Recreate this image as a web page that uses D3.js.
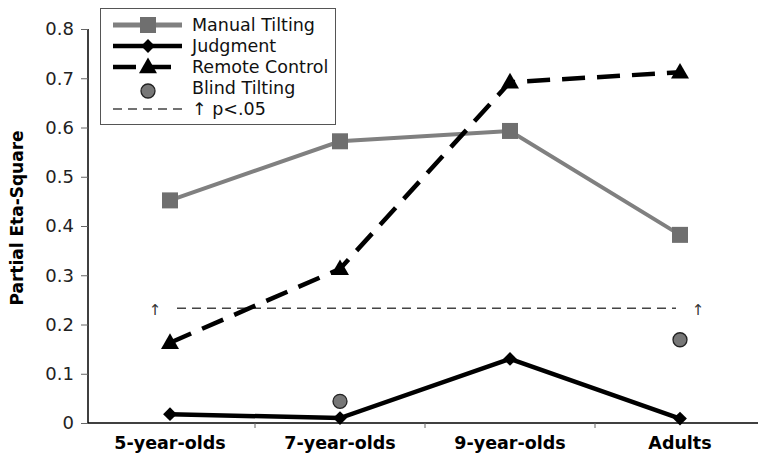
<!DOCTYPE html>
<html>
<head>
<meta charset="utf-8">
<script src="https://cdn.jsdelivr.net/npm/d3@7"></script>
<style>
  body { margin: 0; background: #fff; }
  text { font-family: "DejaVu Sans", Verdana, sans-serif; }
</style>
</head>
<body>
<script>
var w = 758;
var h = 458;

var groups = ["5-year-olds", "7-year-olds", "9-year-olds", "Adults"];
var manual = [0.452, 0.572, 0.593, 0.382];
var judgment = [0.018, 0.01, 0.13, 0.009];
var remote = [0.163, 0.313, 0.692, 0.712];
var blindGroups = ["7-year-olds", "Adults"];
var blind = [0.044, 0.169];
var pLevel = 0.233;
var yTicks = [0, 0.1, 0.2, 0.3, 0.4, 0.5, 0.6, 0.7, 0.8];

var plotLeft = 88, plotTop = 29, plotBottom = 423;

var x = d3.scaleBand()
  .domain(groups)
  .range([85, 765]);

var y = d3.scaleLinear()
  .domain([0, 0.8])
  .range([plotBottom, plotTop]);

var cx = (g) => x(g) + x.bandwidth() / 2;

// diamond = square turned 45 degrees
var diamond = d3.symbol().type(d3.symbolSquare).size(95);

var svg = d3.select("body").append("svg")
  .attr("width", w)
  .attr("height", h);

// y axis
var yAxis = svg.append("g")
  .attr("transform", "translate(" + plotLeft + ",0)")
  .call(d3.axisLeft(y).tickValues(yTicks).tickSize(7).tickPadding(7)
    .tickFormat((d) => d === 0 ? "0" : d3.format(".1f")(d)));
yAxis.select(".domain").attr("stroke", "#000").attr("stroke-width", 1.5).attr("d", "M0," + plotBottom + "V" + plotTop);
yAxis.selectAll(".tick line").attr("stroke", "#666");
yAxis.selectAll("text").attr("font-size", 18).attr("fill", "#222").attr("font-family", "DejaVu Sans");

// x axis
var xAxis = svg.append("g")
  .attr("transform", "translate(0," + plotBottom + ")")
  .call(d3.axisBottom(x).tickSize(0).tickPadding(14));
xAxis.select(".domain").attr("stroke", "#000").attr("stroke-width", 1.5).attr("d", "M" + plotLeft + ",0H" + w);
xAxis.selectAll("text").attr("font-size", 17.5).attr("font-weight", "bold").attr("fill", "#000").attr("font-family", "DejaVu Sans");
// tick marks between categories
svg.selectAll(".xsep")
  .data(groups.slice(1))
  .enter()
    .append("line")
    .attr("x1", (d) => x(d))
    .attr("x2", (d) => x(d))
    .attr("y1", plotBottom)
    .attr("y2", plotBottom + 5)
    .attr("stroke", "#666");

// y title
svg.append("text")
  .attr("transform", "translate(23,218) rotate(-90)")
  .attr("text-anchor", "middle")
  .attr("font-size", 17)
  .attr("font-weight", "bold")
  .text("Partial Eta-Square");

// significance line
svg.append("line")
  .attr("x1", 177)
  .attr("x2", 676)
  .attr("y1", y(pLevel))
  .attr("y2", y(pLevel))
  .attr("stroke", "#444")
  .attr("stroke-width", 1.6)
  .attr("stroke-dasharray", "9,6");
svg.selectAll(".parrow")
  .data([155, 698])
  .enter()
    .append("text")
    .attr("x", (d) => d)
    .attr("y", y(pLevel) + 7)
    .attr("text-anchor", "middle")
    .attr("font-size", 15)
    .attr("fill", "#333")
    .text("\u2191");

var line = d3.line()
  .x((d, i) => cx(groups[i]))
  .y((d) => y(d));

// manual tilting
svg.append("path")
  .datum(manual)
  .attr("d", line)
  .attr("fill", "none")
  .attr("stroke", "#808080")
  .attr("stroke-width", 4);
svg.selectAll(".manual")
  .data(manual)
  .enter()
    .append("rect")
    .attr("x", (d, i) => cx(groups[i]) - 8)
    .attr("y", (d) => y(d) - 8)
    .attr("width", 16)
    .attr("height", 16)
    .attr("fill", "#6f6f6f");

// remote control
svg.append("path")
  .datum(remote)
  .attr("d", line)
  .attr("fill", "none")
  .attr("stroke", "#000")
  .attr("stroke-width", 4.5)
  .attr("stroke-dasharray", "23,12");
svg.selectAll(".remote")
  .data(remote)
  .enter()
    .append("path")
    .attr("d", d3.symbol().type(d3.symbolTriangle).size(140))
    .attr("transform", (d, i) => "translate(" + cx(groups[i]) + "," + (y(d) + 1) + ")")
    .attr("fill", "#000");

// judgment
svg.append("path")
  .datum(judgment)
  .attr("d", line)
  .attr("fill", "none")
  .attr("stroke", "#000")
  .attr("stroke-width", 4.5);
svg.selectAll(".judg")
  .data(judgment)
  .enter()
    .append("path")
    .attr("d", diamond)
    .attr("transform", (d, i) => "translate(" + cx(groups[i]) + "," + y(d) + ") rotate(45)")
    .attr("fill", "#000");

// blind tilting
svg.selectAll(".blind")
  .data(blind)
  .enter()
    .append("circle")
    .attr("cx", (d, i) => cx(blindGroups[i]))
    .attr("cy", (d) => y(d))
    .attr("r", 7)
    .attr("fill", "#777")
    .attr("stroke", "#222")
    .attr("stroke-width", 1.3);

// legend
var lg = svg.append("g");
lg.append("rect")
  .attr("x", 100.5)
  .attr("y", 8.5)
  .attr("width", 235)
  .attr("height", 116)
  .attr("fill", "#fff")
  .attr("stroke", "#555")
  .attr("stroke-width", 1);

var legendNames = ["Manual Tilting", "Judgment", "Remote Control", "Blind Tilting", "\u2191 p<.05"];
var ly = (i) => 25 + i * 21;

lg.selectAll(".ltext")
  .data(legendNames)
  .enter()
    .append("text")
    .attr("x", 192)
    .attr("y", (d, i) => ly(i) + 6)
    .attr("font-size", 17.5)
    .attr("fill", "#111")
    .text((d) => d);

lg.append("line").attr("x1", 113).attr("x2", 182).attr("y1", ly(0)).attr("y2", ly(0))
  .attr("stroke", "#808080").attr("stroke-width", 5);
lg.append("rect").attr("x", 140).attr("y", ly(0) - 8).attr("width", 16).attr("height", 16).attr("fill", "#6f6f6f");

lg.append("line").attr("x1", 113).attr("x2", 182).attr("y1", ly(1)).attr("y2", ly(1))
  .attr("stroke", "#000").attr("stroke-width", 4.5);
lg.append("path").attr("d", diamond)
  .attr("transform", "translate(148," + ly(1) + ") rotate(45)");

lg.append("line").attr("x1", 113).attr("x2", 182).attr("y1", ly(2)).attr("y2", ly(2))
  .attr("stroke", "#000").attr("stroke-width", 4.5).attr("stroke-dasharray", "23,12");
lg.append("path").attr("d", d3.symbol().type(d3.symbolTriangle).size(140))
  .attr("transform", "translate(148," + (ly(2) + 1) + ")");

lg.append("circle").attr("cx", 148).attr("cy", ly(3) + 3).attr("r", 7)
  .attr("fill", "#777").attr("stroke", "#222").attr("stroke-width", 1.3);

lg.append("line").attr("x1", 113).attr("x2", 182).attr("y1", ly(4)).attr("y2", ly(4))
  .attr("stroke", "#444").attr("stroke-width", 1.6).attr("stroke-dasharray", "9,6");
</script>
</body>
</html>
